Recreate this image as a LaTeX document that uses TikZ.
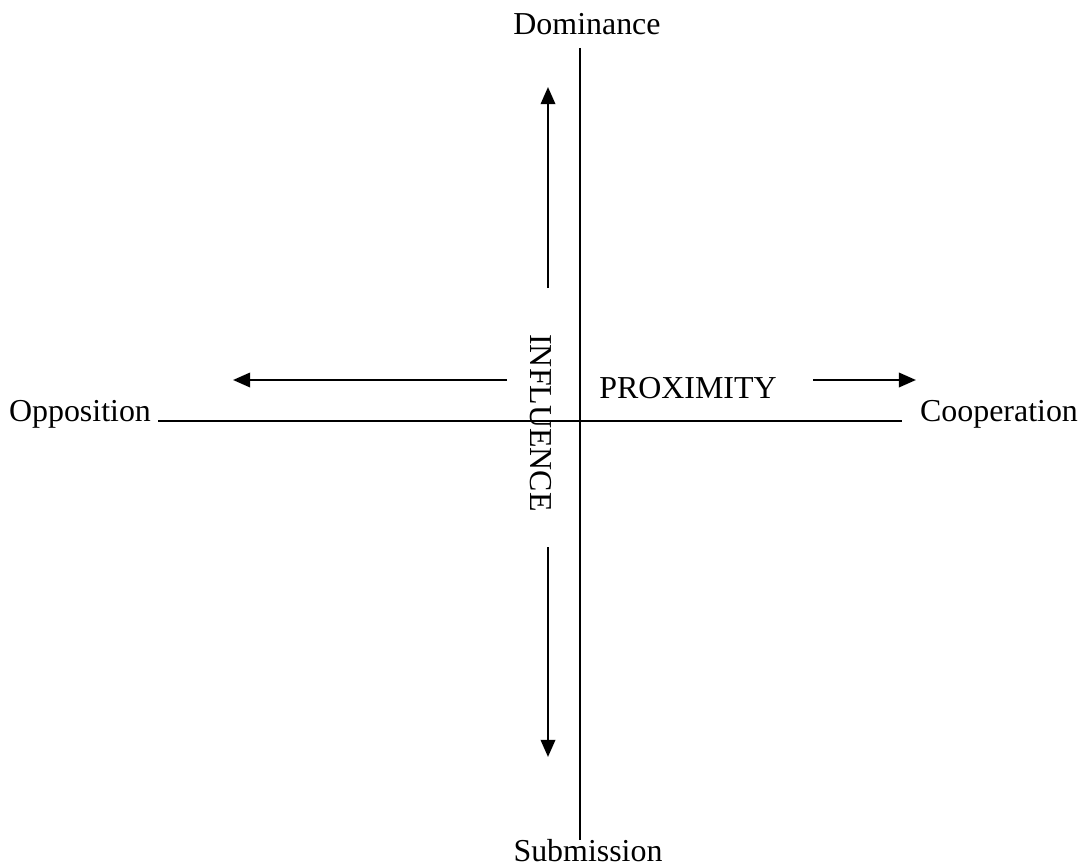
\documentclass[tikz,border=0pt]{standalone}
\usepackage{fontspec}
\setmainfont{Liberation Serif}
\usepackage{tikz}
\usetikzlibrary{arrows.meta}

\tikzset{
  axis/.style={line width=1.3pt},
  dir/.style={line width=1.8pt, -{Triangle[length=0.43cm, width=0.36cm]}},
  lab/.style={font=\fontsize{22.7}{27}\selectfont, anchor=base, inner sep=0pt}
}

\begin{document}
\begin{tikzpicture}[x=0.025cm, y=-0.025cm]
        \useasboundingbox (0,0) rectangle (1086,867);
        % Draw the two axes
        \coordinate (top) at (580,48);
        \coordinate (bottom) at (580,840);
        \coordinate (left) at (158,421);
        \coordinate (right) at (902,421);
        \draw[axis] (top) -- (bottom);
        \draw[axis] (left) -- (right);
        % Pole labels
        \node[lab] (dom) at (587,35) {Dominance};
        \node[lab] (sub) at (588,861) {Submission};
        \node[lab] (opp) at (80,421) {Opposition};
        \node[lab] (coop) at (999,421) {Cooperation};
        % Dimension labels
        \node[lab] (prox) at (688,398) {PROXIMITY};
        \node[font=\fontsize{22.7}{27}\selectfont, inner sep=0pt, rotate=-90] (infl) at (541,423) {INFLUENCE};
        % Direction arrows
        \coordinate (upA) at (548,288);
        \coordinate (upB) at (548,87);
        \coordinate (downA) at (548,547);
        \coordinate (downB) at (548,757);
        \coordinate (leftA) at (507,380);
        \coordinate (leftB) at (233,380);
        \coordinate (rightA) at (813,380);
        \coordinate (rightB) at (916,380);
        \draw[dir] (upA) -- (upB);
        \draw[dir] (downA) -- (downB);
        \draw[dir] (leftA) -- (leftB);
        \draw[dir] (rightA) -- (rightB);
    \end{tikzpicture}
\end{document}
